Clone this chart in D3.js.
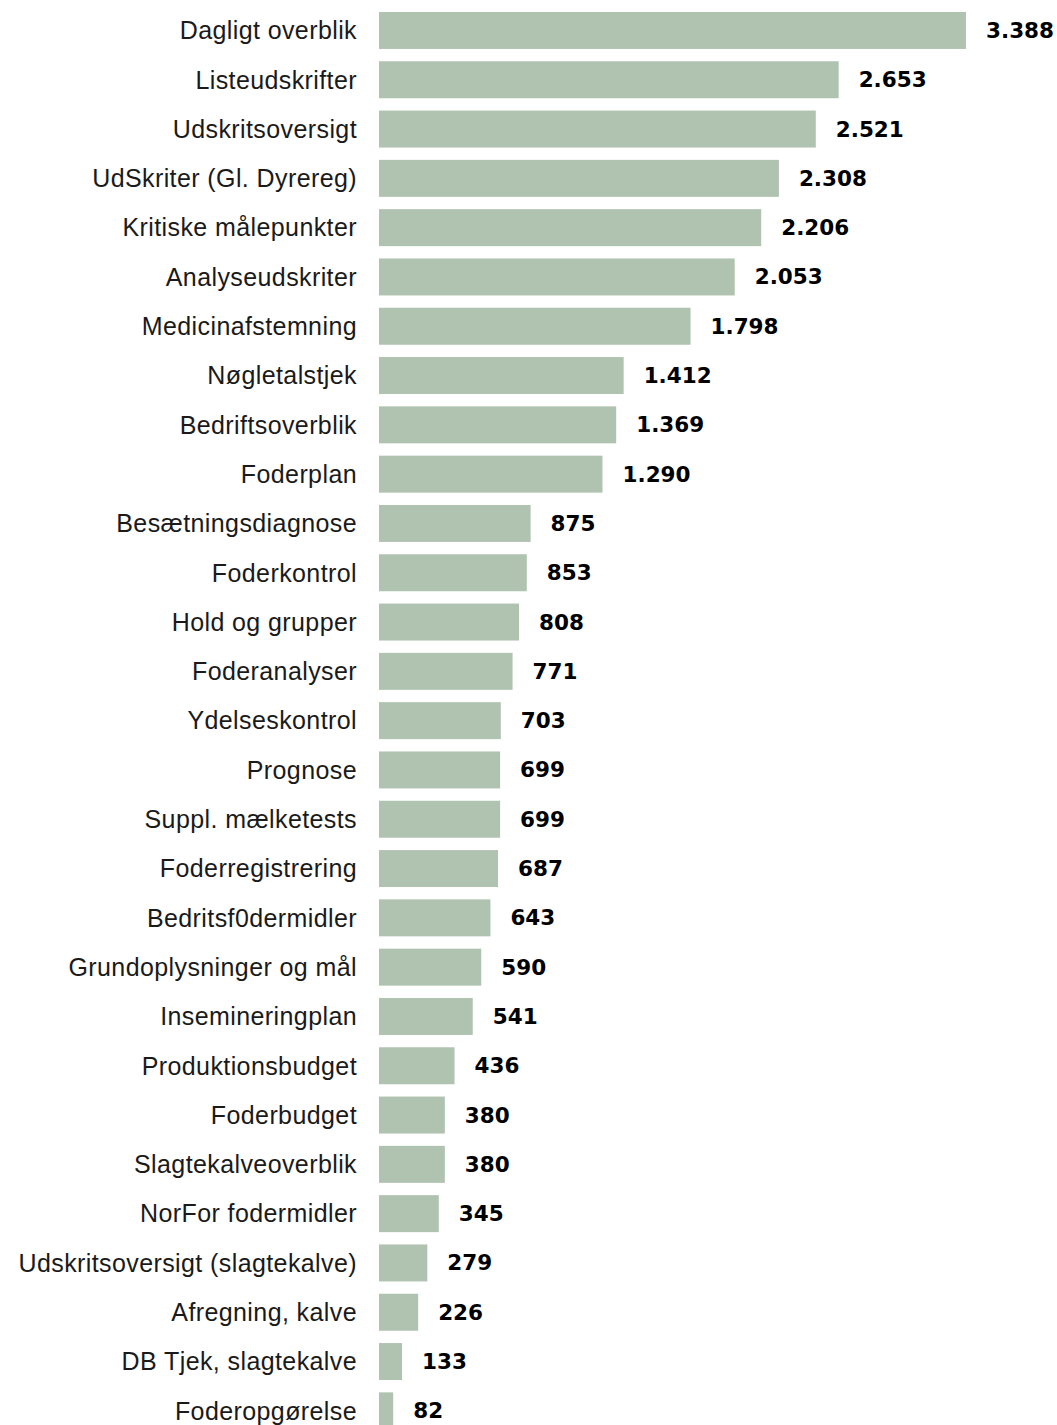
<!doctype html>
<html lang="da">
<head>
    <meta charset="UTF-8">
    <title>Udskrifter</title>
    <script src="https://d3js.org/d3.v7.min.js"></script>
    <style>
        body { margin: 0; background: #fff; }
        .cat { font-family: "Liberation Sans", Arial, sans-serif; font-size: 25px; letter-spacing: 0.4px; fill: #1a1a1a; }
        .val { font-family: "DejaVu Sans", Verdana, sans-serif; font-size: 21.5px; font-weight: bold; fill: #000; }
    </style>
</head>
<body>
    <svg id="chart" width="1057" height="1425"></svg>

    <script>
        const categories = [
            "Dagligt overblik", "Listeudskrifter", "Udskritsoversigt", "UdSkriter (Gl. Dyrereg)",
            "Kritiske målepunkter", "Analyseudskriter", "Medicinafstemning", "Nøgletalstjek",
            "Bedriftsoverblik", "Foderplan", "Besætningsdiagnose", "Foderkontrol",
            "Hold og grupper", "Foderanalyser", "Ydelseskontrol", "Prognose",
            "Suppl. mælketests", "Foderregistrering", "Bedritsf0dermidler", "Grundoplysninger og mål",
            "Insemineringplan", "Produktionsbudget", "Foderbudget", "Slagtekalveoverblik",
            "NorFor fodermidler", "Udskritsoversigt (slagtekalve)", "Afregning, kalve", "DB Tjek, slagtekalve",
            "Foderopgørelse"
        ];
        const values = [
            3388, 2653, 2521, 2308, 2206, 2053, 1798, 1412, 1369, 1290,
            875, 853, 808, 771, 703, 699, 699, 687, 643, 590,
            541, 436, 380, 380, 345, 279, 226, 133, 82
        ];

        const data = categories.map((c, i) => ({ name: c, value: values[i] }));

        const svg = d3.select("#chart");
        const fmt = v => d3.format(",")(v).replace(/,/g, ".");

        const x = d3.scaleLinear()
            .domain([0, d3.max(values)])
            .range([379, 966]);

        const step = 49.3;
        const y = d3.scaleBand()
            .domain(categories)
            .range([5.8, 5.8 + step * categories.length])
            .paddingInner(0.25)
            .paddingOuter(0.125);

        svg.append("g")
            .selectAll("rect")
            .data(data)
            .join("rect")
            .attr("x", x(0))
            .attr("y", d => y(d.name))
            .attr("width", d => x(d.value) - x(0))
            .attr("height", y.bandwidth())
            .attr("fill", "#b0c2b0");

        svg.append("g")
            .selectAll("text")
            .data(data)
            .join("text")
            .attr("class", "cat")
            .attr("x", 357)
            .attr("y", d => y(d.name) + y.bandwidth() / 2)
            .attr("dy", "0.35em")
            .attr("text-anchor", "end")
            .text(d => d.name);

        svg.append("g")
            .selectAll("text")
            .data(data)
            .join("text")
            .attr("class", "val")
            .attr("x", d => x(d.value) + 20)
            .attr("y", d => y(d.name) + y.bandwidth() / 2)
            .attr("dy", "0.35em")
            .text(d => fmt(d.value));
    </script>
</body>
</html>
